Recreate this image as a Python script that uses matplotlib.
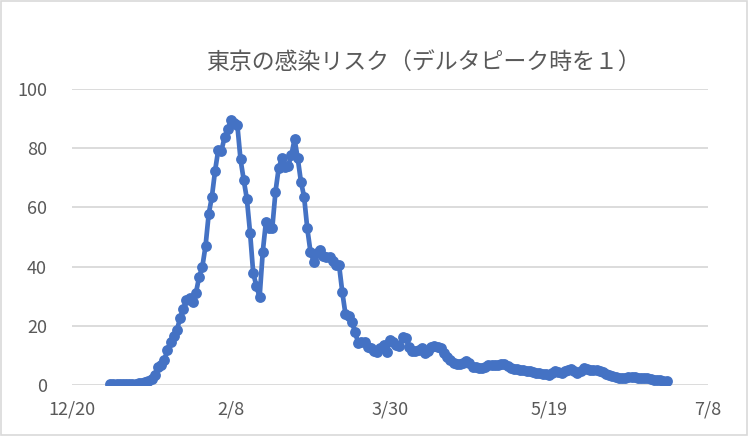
import pandas as pd
import numpy as np
import matplotlib
matplotlib.use("Agg")
import matplotlib.pyplot as plt
import matplotlib.dates as mdates
from matplotlib.patches import Rectangle

plt.rcParams['font.family'] = ['Noto Sans CJK JP', 'DejaVu Sans']

# DATA  (daily values, 2022-01-01 .. 2022-06-25)
start_date = "2022-01-01"
risk_jan = [0.2, 0.2, 0.2, 0.2, 0.3, 0.3, 0.3, 0.4, 0.5, 0.6,
            0.8, 1.0, 1.3, 2.0, 3.5, 6.0, 6.8, 8.4, 11.8, 14.6,
            16.5, 18.6, 22.6, 25.6, 28.7, 29.5, 28.1, 31.2, 36.6, 40.0,
            47.0]
risk_feb = [57.8, 63.6, 72.4, 79.4, 79.2, 83.7, 86.4, 89.5, 88.4, 87.8,
            76.2, 69.3, 62.8, 51.5, 37.7, 33.5, 29.6, 45.0, 55.2, 52.9,
            53.1, 65.3, 73.2, 76.6, 73.7, 74.0, 77.7, 83.0]
risk_mar = [76.6, 68.7, 63.6, 52.9, 45.0, 41.7, 44.5, 45.6, 43.5, 43.1,
            43.3, 42.0, 40.5, 40.5, 31.5, 24.0, 23.2, 21.4, 18.0, 14.2,
            14.5, 14.6, 13.0, 12.4, 11.5, 11.3, 12.5, 13.5, 11.3, 15.2,
            14.5]
risk_apr = [13.5, 13.2, 16.1, 15.8, 13.0, 11.6, 11.5, 11.8, 12.4, 10.7,
            11.5, 12.8, 13.3, 12.8, 12.4, 10.8, 9.6, 8.5, 7.5, 7.2,
            7.0, 7.3, 8.2, 7.5, 6.2, 6.0, 5.8, 5.6, 6.2, 6.8]
risk_may = [6.6, 6.8, 6.8, 7.0, 7.1, 6.5, 5.6, 5.5, 5.3, 5.0,
            4.9, 4.8, 4.6, 4.4, 4.2, 4.0, 3.8, 3.6, 3.4, 4.0,
            4.8, 4.5, 4.2, 4.6, 5.0, 5.3, 4.6, 4.0, 4.8, 5.6,
            5.5]
risk_jun = [5.2, 5.1, 5.0, 4.8, 4.4, 3.8, 3.4, 3.0, 2.7, 2.5,
            2.3, 2.2, 2.6, 2.8, 2.6, 2.5, 2.4, 2.3, 2.3, 2.0,
            1.8, 1.7, 1.6, 1.5, 1.5]

risk = risk_jan + risk_feb + risk_mar + risk_apr + risk_may + risk_jun
dates = pd.date_range(start_date, periods=len(risk), freq="D")

x_ticks = pd.date_range("2021-12-20", periods=5, freq="50D")
y_ticks = [0, 20, 40, 60, 80, 100]
title = "東京の感染リスク（デルタピーク時を１）"

BLUE = "#4472C4"
GRAY_TXT = "#595959"
GRID = "#D9D9D9"

fig = plt.figure(figsize=(7.48, 4.36), dpi=100)
ax = fig.add_axes([0.0963, 0.117, 0.850, 0.679])

ax.plot(dates, risk, color=BLUE, linewidth=3.4, marker="o",
        markersize=7.8, markeredgewidth=0, solid_capstyle="round", zorder=3)

ax.set_xlim(x_ticks[0], x_ticks[-1])
ax.set_ylim(0, 100)
ax.set_xticks(x_ticks)
ax.xaxis.set_major_formatter(mdates.DateFormatter("%-m/%-d"))
ax.set_yticks(y_ticks)

ax.grid(axis="y", color=GRID, linewidth=1.3, zorder=0)
for s in ax.spines.values():
    s.set_visible(False)
ax.tick_params(axis="both", length=0, labelsize=13, labelcolor=GRAY_TXT)
ax.tick_params(axis="y", pad=18)
ax.tick_params(axis="x", pad=11)
ax.set_clip_on(False)

fig.text(0.566, 0.858, title, ha="center", va="center",
         fontsize=16.5, color=GRAY_TXT)

# chart area border
fig.patches.append(Rectangle((0.002, 0.003), 0.996, 0.994, transform=fig.transFigure,
                             fill=False, edgecolor=GRID, linewidth=1.2))

fig.savefig("out.png", dpi=100)
